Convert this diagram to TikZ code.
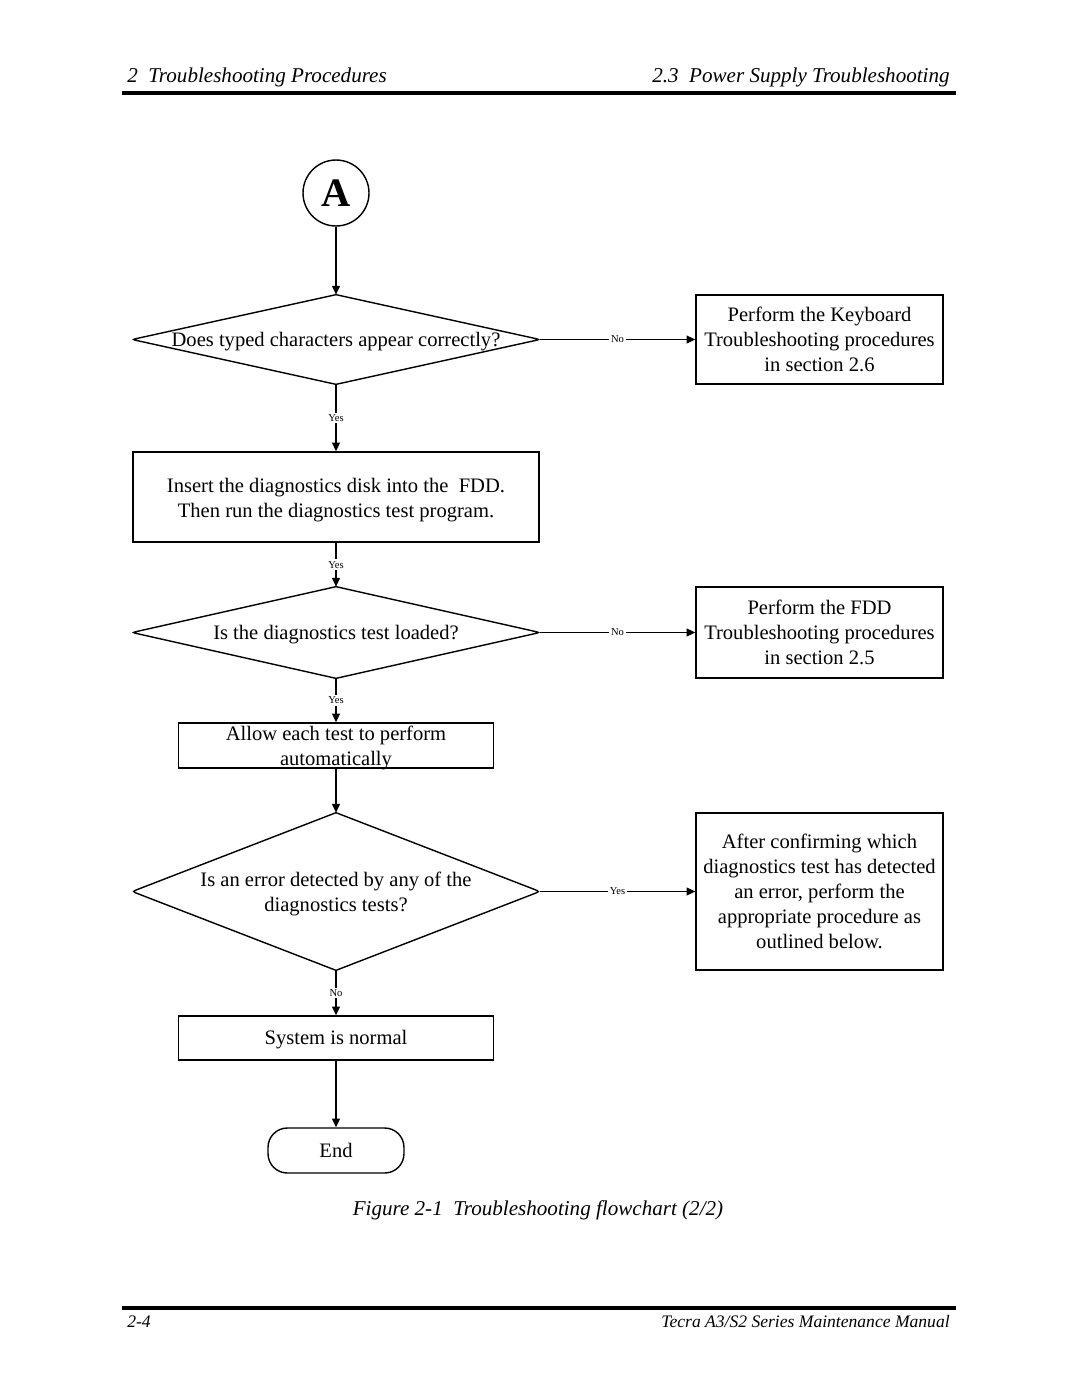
\documentclass[tikz,border=0pt]{standalone}
\usepackage{fontspec}
\setmainfont{Liberation Serif}
\usetikzlibrary{calc,arrows.meta}
\newcommand\drawdec[1]{%
  \draw[ln] ($(#1.east)!0.03!(#1.north)$) -- (#1.north) -- ($(#1.west)!0.03!(#1.north)$)
    .. controls (#1.west) .. ($(#1.west)!0.03!(#1.south)$) -- (#1.south)
    -- ($(#1.east)!0.03!(#1.south)$) .. controls (#1.east) .. ($(#1.east)!0.03!(#1.north)$) -- cycle;}
\newcommand\lowtx[1]{\raisebox{0pt}[\dimexpr\height-2pt\relax][\dimexpr\depth-5pt\relax]{\begin{tabular}{@{}c@{}}#1\end{tabular}}}
\tikzset{
  ln/.style={line width=0.8pt, black},
  arr/.style={ln, -{Triangle[length=5pt,width=4.5pt]}},
  body/.style={font=\fontsize{11.7}{14.2}\selectfont, align=center},
  procbox/.style={body, draw, line width=0.8pt, inner sep=0pt},
  decbox/.style={body, inner sep=0pt},
  lbl/.style={fill=white, inner sep=1pt, font=\fontsize{6}{7}\selectfont},
  hdr/.style={font=\fontsize{12}{14}\selectfont\itshape, inner sep=0pt},
}
\begin{document}
\begin{tikzpicture}[x=0.02cm, y=-0.02cm]
\useasboundingbox (0,0) rectangle (1080,1397);
% header and footer
\node[hdr, anchor=base west] (h1) at (127,82) {2\ \ Troubleshooting Procedures};
\node[hdr, anchor=base east] (h2) at (950,82) {2.3\ \ Power Supply Troubleshooting};
\draw[line width=2.4pt] (122,93) -- (956,93);
\draw[line width=2.4pt] (122,1308) -- (956,1308);
\node[font=\fontsize{10}{12}\selectfont\itshape, inner sep=0pt, anchor=base west] (f1) at (127,1327) {2-4};
\node[font=\fontsize{10}{12}\selectfont\itshape, inner sep=0pt, anchor=base east] (f2) at (950,1327) {Tecra A3/S2 Series Maintenance Manual};
\node[font=\fontsize{12}{14}\selectfont\itshape, inner sep=0pt, anchor=base] (cap) at (538,1215) {Figure 2-1\ \ Troubleshooting flowchart (2/2)};
% nodes
\node[draw, circle, line width=0.8pt, minimum size=1.32cm, inner sep=0pt, font=\fontsize{23}{25}\selectfont\bfseries] (circA) at (336,193) {A};
\node[decbox, minimum width=8.14cm, minimum height=1.78cm] (d1) at (336,339.5) {\lowtx{Does typed characters appear correctly?}};
\node[procbox, minimum width=4.94cm, minimum height=1.78cm] (k1) at (819.5,339.5) {Perform the Keyboard\\Troubleshooting procedures\\in section 2.6};
\node[procbox, minimum width=8.12cm, minimum height=1.8cm] (b2) at (336,497) {\lowtx{Insert the diagnostics disk into the\ \ FDD.\\Then run the diagnostics test program.}};
\node[decbox, minimum width=8.14cm, minimum height=1.82cm] (d2) at (336,632.5) {\lowtx{Is the diagnostics test loaded?}};
\node[procbox, minimum width=4.94cm, minimum height=1.82cm] (k2) at (819.5,632.5) {Perform the FDD\\Troubleshooting procedures\\in section 2.5};
\node[procbox, minimum width=6.3cm, minimum height=0.9cm] (b3) at (336,745.5) {\lowtx{Allow each test to perform\\automatically}};
\node[decbox, minimum width=8.14cm, minimum height=3.14cm] (d3) at (336,891.5) {\lowtx{Is an error detected by any of the\\diagnostics tests?}};
\node[procbox, minimum width=4.94cm, minimum height=3.14cm] (k3) at (819.5,891.5) {After confirming which\\diagnostics test has detected\\an error, perform the\\appropriate procedure as\\outlined below.};
\node[procbox, minimum width=6.3cm, minimum height=0.88cm] (b4) at (336,1038) {\lowtx{System is normal}};
\node[procbox, rounded corners=11pt, minimum width=2.72cm, minimum height=0.9cm] (endn) at (336,1150.5) {End};
\drawdec{d1}
\drawdec{d2}
\drawdec{d3}
% connectors
\draw[arr] (circA) -- (d1.north);
\draw[arr] (d1.east) -- node[lbl] {No} (k1.west);
\draw[arr] (d1.south) -- node[lbl] {Yes} (b2.north);
\draw[arr] (b2.south) -- node[lbl] {Yes} (d2.north);
\draw[arr] (d2.east) -- node[lbl] {No} (k2.west);
\draw[arr] (d2.south) -- node[lbl] {Yes} (b3.north);
\draw[arr] (b3.south) -- (d3.north);
\draw[arr] (d3.east) -- node[lbl] {Yes} (k3.west);
\draw[arr] (d3.south) -- node[lbl] {No} (b4.north);
\draw[arr] (b4.south) -- (endn.north);
\end{tikzpicture}
\end{document}
